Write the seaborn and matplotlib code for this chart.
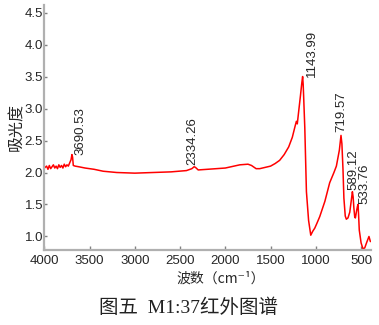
import matplotlib
matplotlib.use("Agg")
import matplotlib.pyplot as plt
import seaborn as sns
import pandas as pd

# Spectrum (wavenumber cm-1, absorbance)
wavenumber = [4000, 3975, 3960, 3945, 3930, 3915, 3900, 3885, 3870, 3855, 3840, 3825,
              3810, 3795, 3780, 3765, 3750, 3735, 3720, 3705, 3695, 3688, 3680, 3660,
              3620, 3550, 3450, 3350, 3200, 3000, 2800, 2600, 2430, 2370, 2345, 2330,
              2300, 2200, 2000, 1840, 1750, 1711, 1660, 1620, 1560, 1500, 1450, 1400,
              1350, 1300, 1260, 1230, 1215, 1205, 1190, 1170, 1155, 1146, 1140, 1135,
              1122, 1104, 1080, 1056, 1035, 1012, 990, 957, 900, 847, 800, 773, 740,
              722, 712, 700, 690, 675, 663, 645, 625, 605, 596, 588, 580, 570, 563,
              550, 540, 534, 528, 520, 500, 480, 460, 440, 413, 397]
absorbance = [2.07, 2.10, 2.05, 2.11, 2.06, 2.09, 2.12, 2.07, 2.10, 2.06, 2.12, 2.08,
              2.11, 2.07, 2.13, 2.09, 2.12, 2.10, 2.15, 2.20, 2.28, 2.24, 2.11, 2.10,
              2.09, 2.07, 2.05, 2.02, 2.00, 1.99, 2.00, 2.01, 2.03, 2.06, 2.09, 2.08,
              2.04, 2.05, 2.07, 2.12, 2.13, 2.11, 2.06, 2.06, 2.08, 2.10, 2.14, 2.19,
              2.28, 2.40, 2.55, 2.72, 2.80, 2.76, 2.95, 3.20, 3.40, 3.50, 3.38, 3.20,
              2.70, 1.70, 1.25, 1.02, 1.08, 1.13, 1.20, 1.31, 1.55, 1.84, 2.00, 2.10,
              2.35, 2.58, 2.45, 2.05, 1.60, 1.32, 1.27, 1.29, 1.38, 1.60, 1.70, 1.62,
              1.45, 1.30, 1.29, 1.40, 1.47, 1.50, 1.35, 1.10, 0.90, 0.81, 0.82, 0.90,
              1.00, 0.92]

peak_labels = ["3690.53", "2334.26", "1143.99", "719.57", "589.12", "533.76"]
peak_x = [3600, 2360, 1040, 720, 582, 465]
peak_y = [2.28, 2.11, 3.50, 2.63, 1.73, 1.50]

x_ticks = [4000, 3500, 3000, 2500, 2000, 1500, 1000, 500]
y_ticks = [1.0, 1.5, 2.0, 2.5, 3.0, 3.5, 4.0, 4.5]

df = pd.DataFrame({"wavenumber": wavenumber, "absorbance": absorbance})

sns.set_style("white")
plt.rcParams["font.family"] = ["Liberation Sans", "Noto Sans CJK SC", "DejaVu Sans"]

fig = plt.figure(figsize=(3.79, 3.25), dpi=100)
ax = fig.add_axes([0.117, 0.231, 0.862, 0.754])

sns.lineplot(data=df, x="wavenumber", y="absorbance", sort=False,
             color="#ff0000", linewidth=1.1, ax=ax)

ax.set_xlim(4000, 390)
ax.set_ylim(0.79, 4.62)
ax.set_xticks(x_ticks)
ax.set_xticklabels([str(v) for v in x_ticks])
ax.set_yticks(y_ticks)
ax.set_yticklabels([f"{v:.1f}" for v in y_ticks])

for s in ["top", "right"]:
    ax.spines[s].set_visible(False)
for s in ["left", "bottom"]:
    ax.spines[s].set_color("#b0b0b0")
    ax.spines[s].set_linewidth(1.6)

ax.tick_params(axis="x", direction="in", length=3, width=1, color="#808080",
               labelsize=9.5, pad=4, bottom=True)
ax.tick_params(axis="y", direction="in", length=2, width=1, color="#808080",
               labelsize=9.5, pad=1, left=True)

for lab, px, py in zip(peak_labels, peak_x, peak_y):
    ax.text(px, py, lab, rotation=90, ha="center", va="bottom", fontsize=9.5)

ax.set_xlabel("波数（cm⁻¹）", fontsize=10, labelpad=0,
              family=["Noto Sans CJK SC", "DejaVu Sans"])
ax.xaxis.set_label_coords(0.54, -0.09)
ax.set_ylabel("吸光度", fontsize=11.5, labelpad=2,
              family=["Noto Sans CJK SC", "DejaVu Sans"])
ax.yaxis.set_label_coords(-0.058, 0.5)

fig.text(0.497, 0.052, "图五  M1:37红外图谱", ha="center", va="center",
         fontsize=14, family=["Liberation Serif", "Noto Sans CJK SC"], color="#222222")

fig.savefig("out.png", dpi=100)
